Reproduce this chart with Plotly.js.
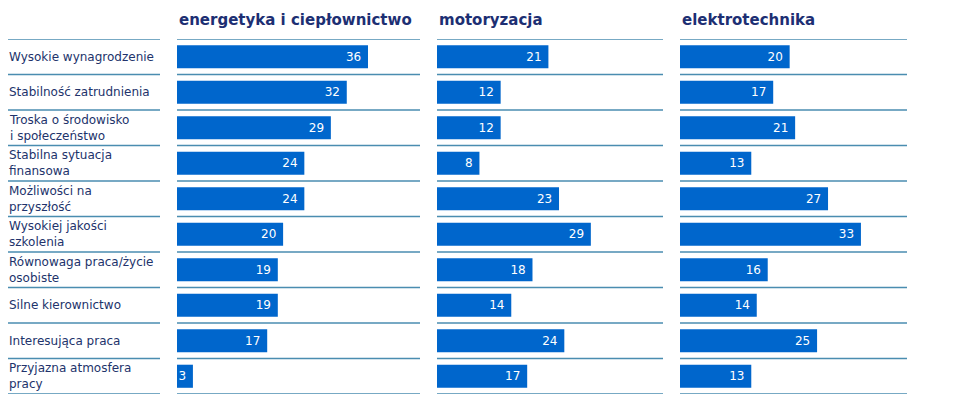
<!DOCTYPE html>
<html>
<head>
<meta charset="utf-8">
<script src="https://cdn.plot.ly/plotly-3.0.1.min.js"></script>
<style>html,body{margin:0;padding:0;background:#fff;}#chart{width:978px;height:396px;}</style>
</head>
<body>
<div id="chart"></div>
<script>
// ---- data ----
const categories = [
  'Wysokie wynagrodzenie',
  'Stabilność zatrudnienia',
  'Troska o środowisko<br>i społeczeństwo',
  'Stabilna sytuacja<br>finansowa',
  'Możliwości na<br>przyszłość',
  'Wysokiej jakości<br>szkolenia',
  'Równowaga praca/życie<br>osobiste',
  'Silne kierownictwo',
  'Interesująca praca',
  'Przyjazna atmosfera<br>pracy'
];
const panelTitles = ['energetyka i ciepłownictwo', 'motoryzacja', 'elektrotechnika'];
const energetyka = [36, 32, 29, 24, 24, 20, 19, 19, 17, 3];
const motoryzacja = [21, 12, 12, 8, 23, 29, 18, 14, 24, 17];
const elektrotechnika = [20, 17, 21, 13, 27, 33, 16, 14, 25, 13];

// ---- layout helpers ----
const W = 978, H = 396;
const px = v => v / W;
const domains = [[px(177), px(420)], [px(437), px(663)], [px(680), px(907)]];
const ranges = [[0, 45.8], [0, 42.6], [0, 41.4]];
const series = [energetyka, motoryzacja, elektrotechnika];
const axNames = ['x', 'x2', 'x3'];
const BAR = '#0066CC';
const NAVY = '#22336b';
const TITLE = '#1d2f73';
const LINE = '#4a8db0';

const traces = series.map((vals, i) => ({
  type: 'bar',
  orientation: 'h',
  x: vals,
  y: categories,
  xaxis: axNames[i],
  yaxis: 'y',
  marker: {color: BAR, line: {width: 0}},
  text: vals.map(v => String(v) + '\u00a0'),
  textposition: 'inside',
  insidetextanchor: 'end',
  constraintext: 'none',
  textfont: {family: 'DejaVu Sans', size: 12, color: '#ffffff'},
  hoverinfo: 'skip',
  showlegend: false
}));

const layout = {
  width: W, height: H,
  margin: {l: 0, r: 0, t: 0, b: 0},
  paper_bgcolor: '#ffffff',
  plot_bgcolor: 'rgba(0,0,0,0)',
  bargap: 0.35,
  yaxis: {
    type: 'category',
    categoryorder: 'array',
    categoryarray: categories,
    range: [9.5, -0.5],
    domain: [2 / H, 357 / H],
    showticklabels: false, showgrid: false, zeroline: false, showline: false, ticks: ''
  },
  shapes: [],
  annotations: []
};
axNames.forEach((a, i) => {
  const key = a === 'x' ? 'xaxis' : 'xaxis' + a.slice(1);
  layout[key] = {
    domain: domains[i], range: ranges[i], anchor: 'y',
    showticklabels: false, showgrid: false, zeroline: false, showline: false, ticks: '', fixedrange: true
  };
  layout.annotations.push({
    text: panelTitles[i], xref: a + ' domain', x: 0, xanchor: 'left',
    yref: 'paper', y: 1 - 20 / H, yanchor: 'middle', showarrow: false,
    font: {family: 'DejaVu Sans', size: 15, color: TITLE, weight: 'bold'}
  });
});

// separator lines (category boundaries) for label column + panels
const cols = [[px(8), px(160)], ...domains];
for (let k = 0; k <= categories.length; k++) {
  cols.forEach(c => layout.shapes.push({
    type: 'line', xref: 'paper', yref: 'y',
    x0: c[0], x1: c[1], y0: k - 0.5, y1: k - 0.5,
    line: {color: LINE, width: 1.5}, layer: 'below'
  }));
}

// row labels
categories.forEach(c => layout.annotations.push({
  text: c, xref: 'paper', x: px(7), xanchor: 'left', align: 'left',
  yref: 'y', y: c, yanchor: 'middle', showarrow: false,
  font: {family: 'DejaVu Sans', size: 12, color: NAVY}
}));

Plotly.newPlot('chart', traces, layout, {displayModeBar: false, staticPlot: true});
</script>
</body>
</html>
